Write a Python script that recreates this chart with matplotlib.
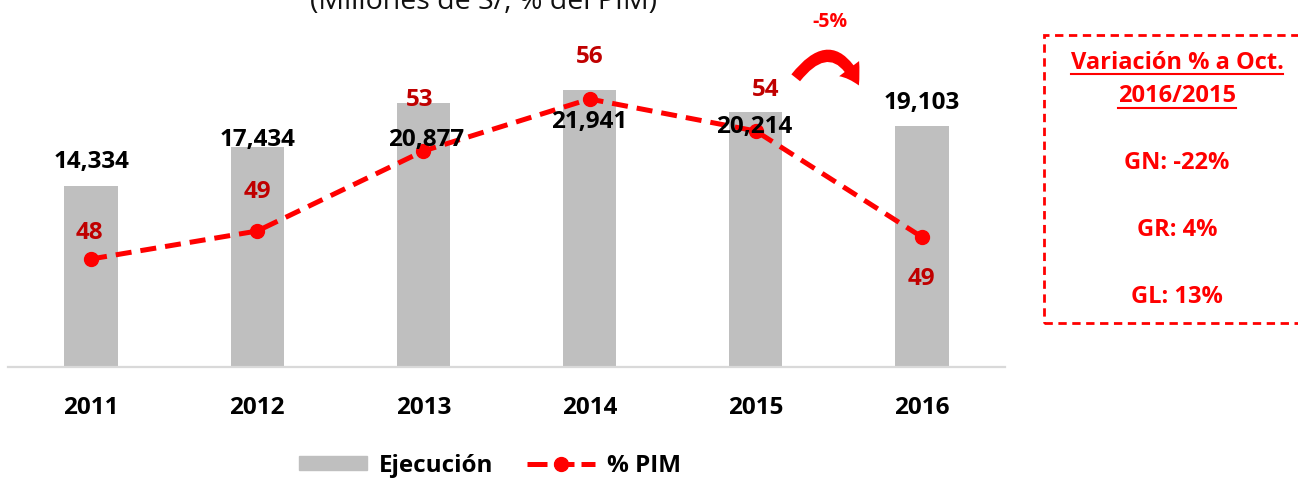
import matplotlib
matplotlib.use("Agg")
import matplotlib.pyplot as plt  # noqa: E402
from matplotlib.lines import Line2D  # noqa: E402
from matplotlib.patches import FancyArrowPatch, Patch, Rectangle  # noqa: E402

plt.rcParams["font.family"] = ["Open Sans", "DejaVu Sans"]

years = ["2011", "2012", "2013", "2014", "2015", "2016"]
ejecucion = [14334, 17434, 20877, 21941, 20214, 19103]
pct_pim = [48.0, 49.4, 53.4, 56.0, 54.4, 49.1]
pct_labels = ["48", "49", "53", "56", "54", "49"]
box_lines = ["GN: -22%", "GR: 4%", "GL: 13%"]

RED = "#FF0000"
DARK_RED = "#C00000"
GRAY = "#BFBFBF"
FS = 17.5

# label offsets in pixels (x, y), tuned by eye against the source chart
bar_lbl_off = [(0, 24), (0, 7), (3, -37), (0, -32), (-2, -15), (0, 23)]
pct_lbl_off = [(-2, 26), (0, 39), (-4, 51), (0, 42), (10, 41), (0, -42)]

W, H = 1298, 478
fig = plt.figure(figsize=(W / 100, H / 100), dpi=100)


def fx(px):
    return px / W


def fy(py):
    return 1 - py / H


ax = fig.add_axes([fx(8), fy(367), fx(1005) - fx(8), fy(30) - fy(367)])
x = list(range(len(years)))
ax.bar(x, ejecucion, width=0.32, color=GRAY, zorder=1)
ax.set_xlim(-0.5, 5.5)
ax.set_ylim(0, 26700)
ax.set_xticks(x, years, fontsize=FS, fontweight="bold")
ax.tick_params(axis="x", length=0, pad=21)
ax.set_yticks([])
for s in ("top", "right", "left"):
    ax.spines[s].set_visible(False)
ax.spines["bottom"].set_color("#D9D9D9")
ax.spines["bottom"].set_linewidth(1.6)

ax2 = ax.twinx()
ax2.set_ylim(42.6, 59.45)
ax2.axis("off")
dash = (0, (3.2, 1.8))
ax2.plot(x, pct_pim, color=RED, lw=3.6, ls=dash, marker="o", ms=10, zorder=3)

for i, v in enumerate(ejecucion):
    dx, dy = bar_lbl_off[i]
    y2 = ax2.transData.inverted().transform(ax.transData.transform((i, v)))[1]
    ax2.annotate(f"{v:,}", (i, y2), xytext=(dx, dy),
                 textcoords="offset pixels", ha="center", va="center",
                 fontsize=FS, fontweight="bold", color="black", zorder=5)

for i, v in enumerate(pct_pim):
    dx, dy = pct_lbl_off[i]
    ax2.annotate(pct_labels[i], (i, v), xytext=(dx, dy),
                 textcoords="offset pixels", ha="center", va="center",
                 fontsize=FS, fontweight="bold", color=DARK_RED, zorder=5)

# title, cut off at the top as in the source
fig.text(fx(483), fy(9), "(Millones de S/, % del PIM)", ha="center",
         va="baseline", fontsize=20.5, color="#111111")

# curved arrow with the 2016/2015 change
fig.text(fx(830), fy(22), "-5%", ha="center", va="center", fontsize=14,
         fontweight="bold", color=RED)
fig.patches.append(FancyArrowPatch(
    (fx(794), fy(80)), (fx(860), fy(88)), transform=fig.transFigure,
    connectionstyle="arc3,rad=-0.85",
    arrowstyle="simple,head_width=18,head_length=14,tail_width=8",
    color=RED, lw=0))

# dashed side box
fig.patches.append(Rectangle(
    (fx(1044), fy(323)), fx(1320) - fx(1044), fy(35) - fy(323),
    transform=fig.transFigure, fill=False, ec=RED, lw=2, ls=(0, (3, 2))))
head = [fig.text(fx(1177), fy(63), "Variación % a Oct.", ha="center",
                 va="center", fontsize=17, fontweight="bold", color=RED),
        fig.text(fx(1177), fy(96), "2016/2015", ha="center", va="center",
                 fontsize=17, fontweight="bold", color=RED)]
for txt, yy in zip(box_lines, [163, 230, 297]):
    fig.text(fx(1177), fy(yy), txt, ha="center", va="center", fontsize=17,
             fontweight="bold", color=RED)

# underline the box heading
fig.canvas.draw()
rend = fig.canvas.get_renderer()
for t, uy in zip(head, [74, 108]):
    bb = t.get_window_extent(rend)
    fig.lines.append(Line2D([bb.x0 / W, bb.x1 / W], [fy(uy), fy(uy)],
                            transform=fig.transFigure, color=RED, lw=1.5))

handles = [Patch(color=GRAY),
           Line2D([], [], color=RED, lw=3.6, ls=(0, (4, 1.4)), marker="o",
                  ms=10)]
fig.legend(handles, ["Ejecución", "% PIM"], loc="center",
           bbox_to_anchor=(fx(490), fy(466)), ncol=2, frameon=False,
           prop={"size": FS, "weight": "bold"}, handlelength=2.8,
           handleheight=0.5, columnspacing=1.4, handletextpad=0.5)

fig.savefig("out.png", dpi=100)
